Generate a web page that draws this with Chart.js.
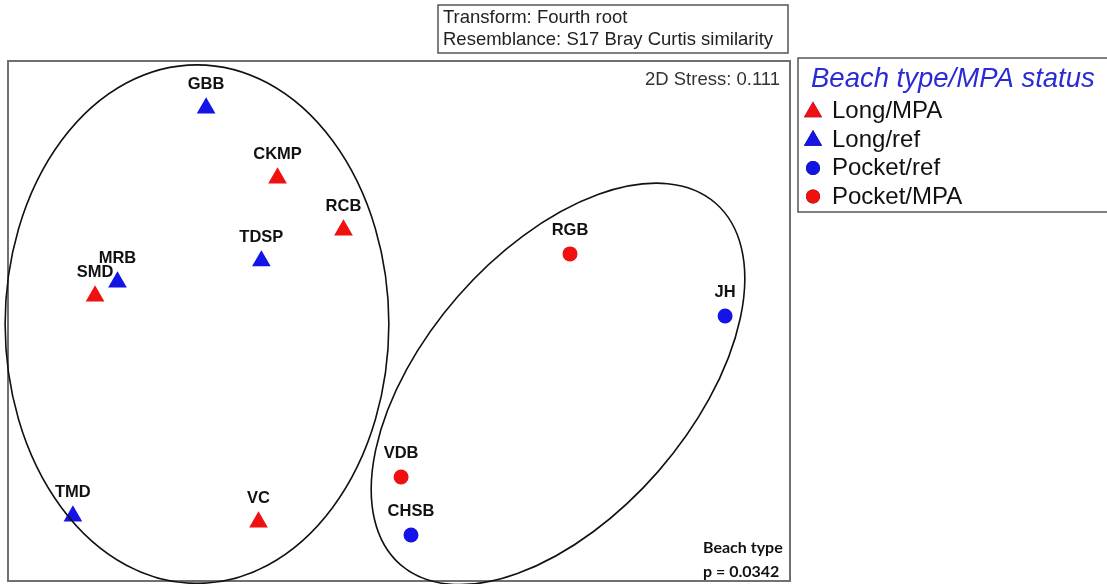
<!DOCTYPE html>
<html>
<head>
<meta charset="utf-8">
<script src="https://cdn.jsdelivr.net/npm/chart.js@4/dist/chart.umd.min.js"></script>
<style>
  html, body { margin: 0; padding: 0; background: #fff; }
  #wrap { position: relative; width: 1107px; height: 584px; overflow: hidden; }
  canvas { display: block; }
</style>
</head>
<body>
<div id="wrap"><canvas id="mds" width="1107" height="584"></canvas></div>
<script>
// Sitios y coordenadas nMDS
const siteNames = ['GBB', 'CKMP', 'RCB', 'TDSP', 'MRB', 'SMD', 'TMD', 'VC', 'RGB', 'JH', 'VDB', 'CHSB'];
const siteX = [-0.740, -0.466, -0.213, -0.528, -1.080, -1.166, -1.251, -0.539, 0.656, 1.251, 0.008, 0.046];
const siteY = [0.819, 0.550, 0.350, 0.231, 0.150, 0.096, -0.750, -0.773, 0.258, 0.019, -0.600, -0.823];
const siteGroup = [1, 0, 0, 1, 1, 0, 1, 0, 3, 2, 3, 2];

// Grupos de la leyenda
const groupNames = ['Long/MPA', 'Long/ref', 'Pocket/ref', 'Pocket/MPA'];
const groupColors = ['#f01010', '#1414e6', '#1414e6', '#f01010'];
const groupShapes = ['triangle', 'triangle', 'circle', 'circle'];

// Elipses (centro, semiejes, ángulo en grados)
const ellipseCx = [-0.775, 0.610];
const ellipseCy = [-0.012, -0.242];
const ellipseRx = [0.737, 0.921];
const ellipseRy = [0.996, 0.511];
const ellipseAngle = [0, 48.9];

const datasets = groupNames.map((name, g) => {
  const pts = [];
  siteNames.forEach((s, i) => {
    if (siteGroup[i] === g) pts.push({ x: siteX[i], y: siteY[i], name: s });
  });
  return {
    label: name,
    data: pts,
    pointStyle: groupShapes[g],
    backgroundColor: groupColors[g],
    borderColor: groupColors[g],
    borderWidth: 0,
    pointRadius: groupShapes[g] === 'triangle' ? 10.8 : 7.5
  };
});

// Marco, elipses, etiquetas y cajas de texto
const decorPlugin = {
  id: 'decor',
  afterDatasetsDraw(chart) {
    const ctx = chart.ctx;
    const xs = chart.scales.x, ys = chart.scales.y;
    const area = chart.chartArea;

    ctx.save();
    // Marco del gráfico
    ctx.strokeStyle = '#707070';
    ctx.lineWidth = 2;
    ctx.strokeRect(area.left, area.top, area.right - area.left, area.bottom - area.top);

    // Elipses
    ctx.strokeStyle = '#111';
    ctx.lineWidth = 1.6;
    for (let i = 0; i < ellipseCx.length; i++) {
      const cx = xs.getPixelForValue(ellipseCx[i]);
      const cy = ys.getPixelForValue(ellipseCy[i]);
      const unit = (xs.getPixelForValue(1) - xs.getPixelForValue(0) + ys.getPixelForValue(0) - ys.getPixelForValue(1)) / 2;
      ctx.beginPath();
      ctx.ellipse(cx, cy, ellipseRx[i] * unit, ellipseRy[i] * unit, -ellipseAngle[i] * Math.PI / 180, 0, Math.PI * 2);
      ctx.stroke();
    }

    // Nombres de sitios
    ctx.fillStyle = '#111';
    ctx.font = 'bold 16.5px "Liberation Sans", Arial, sans-serif';
    ctx.textAlign = 'center';
    ctx.textBaseline = 'middle';
    chart.data.datasets.forEach((ds, di) => {
      chart.getDatasetMeta(di).data.forEach((el, j) => {
        ctx.fillText(ds.data[j].name, el.x, el.y - 23.5);
      });
    });

    // Stress
    ctx.fillStyle = '#333';
    ctx.font = '18.5px "Liberation Sans", Arial, sans-serif';
    ctx.textAlign = 'right';
    ctx.textBaseline = 'alphabetic';
    ctx.fillText('2D Stress: 0.111', area.right - 10, 85);

    // Resultado del test
    ctx.fillStyle = '#111';
    ctx.font = 'bold 16px Lato, "Open Sans", sans-serif';
    ctx.textAlign = 'left';
    ctx.fillText('Beach type', 703, 553);
    ctx.fillText('p = 0.0342', 703, 577);

    // Caja de transformación
    ctx.fillStyle = '#fff';
    ctx.fillRect(438, 5, 350, 48);
    ctx.strokeStyle = '#555';
    ctx.lineWidth = 1.5;
    ctx.strokeRect(438, 5, 350, 48);
    ctx.fillStyle = '#222';
    ctx.font = '18.5px "Liberation Sans", Arial, sans-serif';
    ctx.fillText('Transform: Fourth root', 443, 23);
    ctx.fillText('Resemblance: S17 Bray Curtis similarity', 443, 45);

    // Leyenda
    ctx.strokeStyle = '#555';
    ctx.lineWidth = 1.5;
    ctx.strokeRect(798, 58, 320, 154);
    ctx.fillStyle = '#2b2bd6';
    ctx.font = 'italic 27.5px "Liberation Sans", Arial, sans-serif';
    ctx.fillText('Beach type/MPA status', 811, 87);
    ctx.font = '24px "Liberation Sans", Arial, sans-serif';
    groupNames.forEach((name, g) => {
      const yb = 118 + g * 28.5;
      Chart.helpers.drawPoint(ctx, {
        pointStyle: groupShapes[g],
        radius: groupShapes[g] === 'triangle' ? 10.5 : 7,
        borderWidth: 0
      }, 813, yb - (groupShapes[g] === 'triangle' ? 6 : 7));
      ctx.fillStyle = groupColors[g];
      ctx.fill();
      ctx.fillStyle = '#111';
      ctx.fillText(name, 832, yb);
    });
    ctx.restore();
  }
};

new Chart(document.getElementById('mds'), {
  type: 'scatter',
  data: { datasets },
  options: {
    responsive: false,
    animation: false,
    layout: { autoPadding: false, padding: { left: 8, top: 61, right: 317, bottom: 3 } },
    scales: {
      x: { type: 'linear', min: -1.5, max: 1.5, display: false },
      y: { type: 'linear', min: -1, max: 1, display: false }
    },
    plugins: {
      legend: { display: false },
      tooltip: { enabled: false }
    }
  },
  plugins: [decorPlugin]
});
</script>
</body>
</html>
